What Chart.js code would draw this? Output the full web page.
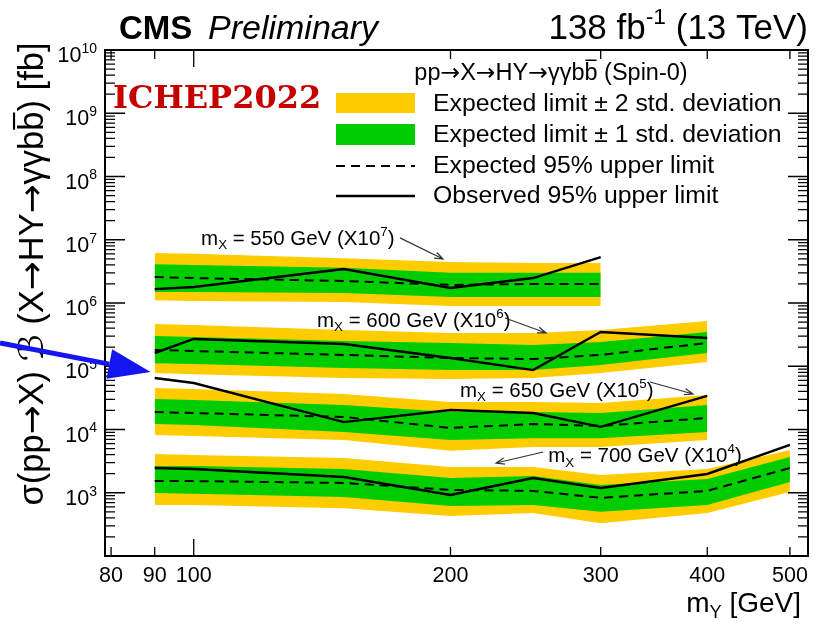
<!DOCTYPE html>
<html lang="en">
<head>
<meta charset="UTF-8">
<title>pp → X → HY → γγbb limits</title>
<script src="https://cdn.jsdelivr.net/npm/chart.js@4.4.0/dist/chart.umd.min.js"></script>
<style>
  html, body { margin: 0; padding: 0; background: #fff; }
  canvas { display: block; }
</style>
</head>
<body>
<canvas id="limits" width="819" height="625"></canvas>
<script>
// m_Y scan points (GeV) per m_X hypothesis
const mY550 = [90, 100, 150, 200, 250, 300];
const mY600 = [90, 100, 150, 200, 250, 300, 400];
const mY650 = [90, 100, 150, 200, 250, 300, 400];
const mY700 = [90, 100, 150, 200, 250, 300, 400, 500];

// limits in fb (before the display offset)
const exp550 = [0.258, 0.248, 0.223, 0.193, 0.200, 0.200];
const obs550 = [0.166, 0.179, 0.345, 0.173, 0.248, 0.533];
const p1s550 = [0.41, 0.40, 0.36, 0.30, 0.30, 0.30];
const m1s550 = [0.149, 0.149, 0.144, 0.124, 0.124, 0.124];
const p2s550 = [0.62, 0.60, 0.51, 0.445, 0.43, 0.43];
const m2s550 = [0.111, 0.108, 0.104, 0.090, 0.090, 0.090];

const exp600 = [0.181, 0.174, 0.151, 0.135, 0.130, 0.151, 0.233];
const obs600 = [0.162, 0.270, 0.225, 0.135, 0.087, 0.348, 0.280];
const p1s600 = [0.301, 0.290, 0.251, 0.233, 0.217, 0.242, 0.348];
const m1s600 = [0.112, 0.109, 0.094, 0.087, 0.087, 0.105, 0.162];
const p2s600 = [0.466, 0.449, 0.374, 0.336, 0.336, 0.374, 0.519];
const m2s600 = [0.078, 0.075, 0.065, 0.063, 0.065, 0.078, 0.117];

const exp650 = [0.189, 0.182, 0.158, 0.106, 0.122, 0.114, 0.152];
const obs650 = [0.651, 0.543, 0.131, 0.203, 0.182, 0.110, 0.339];
const p1s650 = [0.303, 0.293, 0.244, 0.189, 0.189, 0.182, 0.244];
const m1s650 = [0.122, 0.118, 0.091, 0.068, 0.073, 0.073, 0.091];
const p2s650 = [0.453, 0.437, 0.364, 0.272, 0.272, 0.262, 0.351];
const m2s650 = [0.082, 0.079, 0.068, 0.046, 0.053, 0.053, 0.068];

const exp700 = [0.153, 0.153, 0.143, 0.111, 0.107, 0.083, 0.107, 0.246];
const obs700 = [0.246, 0.237, 0.177, 0.092, 0.171, 0.119, 0.198, 0.569];
const p1s700 = [0.265, 0.265, 0.237, 0.171, 0.184, 0.133, 0.165, 0.367];
const m1s700 = [0.099, 0.096, 0.086, 0.062, 0.064, 0.050, 0.064, 0.148];
const p2s700 = [0.410, 0.395, 0.354, 0.255, 0.255, 0.191, 0.237, 0.474];
const m2s700 = [0.064, 0.064, 0.057, 0.043, 0.048, 0.033, 0.048, 0.103];

// each m_X curve is multiplied by a power of ten so they don't overlap
const offsetExp = [7, 6, 5, 4];
const mXValues = [550, 600, 650, 700];

// axis ticks
const xTickLabels = [80, 90, 100, 200, 300, 400, 500];
const xMajor = [100];
const yExponents = [2, 3, 4, 5, 6, 7, 8, 9, 10];
const yLabelled = [3, 4, 5, 6, 7, 8, 9, 10];

const YELLOW = '#ffcc00';
const GREEN = '#00cc00';
const FONT = '"Liberation Sans", Arial, Helvetica, sans-serif';
const ARROW_FONT = '"DejaVu Sans", sans-serif';

const groups = [
  { mY: mY550, exp: exp550, obs: obs550, p1: p1s550, m1: m1s550, p2: p2s550, m2: m2s550 },
  { mY: mY600, exp: exp600, obs: obs600, p1: p1s600, m1: m1s600, p2: p2s600, m2: m2s600 },
  { mY: mY650, exp: exp650, obs: obs650, p1: p1s650, m1: m1s650, p2: p2s650, m2: m2s650 },
  { mY: mY700, exp: exp700, obs: obs700, p1: p1s700, m1: m1s700, p2: p2s700, m2: m2s700 }
];

function pts(xs, ys, k) {
  return xs.map((m, i) => ({ x: m, y: ys[i] * k }));
}

const datasets = [];
groups.forEach((g, gi) => {
  const k = Math.pow(10, offsetExp[gi]);
  const line = { pointRadius: 0, tension: 0, fill: false };
  datasets.push({ ...line, data: pts(g.mY, g.p2, k), fill: '+1', backgroundColor: YELLOW, borderWidth: 0, order: 4 });
  datasets.push({ ...line, data: pts(g.mY, g.m2, k), borderWidth: 0, order: 4 });
  datasets.push({ ...line, data: pts(g.mY, g.p1, k), fill: '+1', backgroundColor: GREEN, borderWidth: 0, order: 3 });
  datasets.push({ ...line, data: pts(g.mY, g.m1, k), borderWidth: 0, order: 3 });
  datasets.push({ ...line, data: pts(g.mY, g.exp, k), borderColor: '#000', borderWidth: 2, borderDash: [9, 6], order: 2 });
  datasets.push({ ...line, data: pts(g.mY, g.obs, k), borderColor: '#000', borderWidth: 2.4, order: 1 });
});

// "m_X = ... GeV (X10^n)" labels with their pointers, in data coordinates
const curveNotes = [
  { at: [102, 8.3e6], from: [174.5, 1.07e7], to: [196, 4.96e6] },
  { at: [139.5, 4.18e5], from: [231.7, 5.79e5], to: [258.9, 3.36e5] },
  { at: [205.2, 3.27e4], from: [342.7, 5.64e4], to: [384.9, 3.64e4] },
  { at: [260.4, 3.06e3], from: [256.9, 4.41e3], to: [226.2, 2.95e3] }
];

// text made of pieces (superscript, subscript, overline); arrows use DejaVu
function splitArrows(parts) {
  const out = [];
  parts.forEach(p => {
    p.t.split(/(→)/).forEach(s => {
      if (!s) return;
      out.push(s === '→' ? { ...p, t: s, family: ARROW_FONT } : { ...p, t: s });
    });
  });
  return out;
}
function pieceFont(p, size) {
  const s = (p.sup || p.sub) ? size * 0.65 : size;
  return (p.style ? p.style + ' ' : '') + s.toFixed(1) + 'px ' + (p.family || FONT);
}
function richWidth(ctx, parts, size) {
  let w = 0;
  parts.forEach(p => { ctx.font = pieceFont(p, size); w += ctx.measureText(p.t).width; });
  return w;
}
function drawRich(ctx, rawParts, x, y, size, align) {
  const parts = splitArrows(rawParts);
  const w = richWidth(ctx, parts, size);
  let cx = align === 'right' ? x - w : align === 'center' ? x - w / 2 : x;
  ctx.textAlign = 'left';
  ctx.textBaseline = 'alphabetic';
  parts.forEach(p => {
    ctx.font = pieceFont(p, size);
    const dy = p.sup ? -size * 0.42 : p.sub ? size * 0.22 : 0;
    ctx.fillText(p.t, cx, y + dy);
    const pw = ctx.measureText(p.t).width;
    if (p.bar) {
      ctx.save();
      ctx.lineWidth = Math.max(1, size / 16);
      ctx.strokeStyle = ctx.fillStyle;
      ctx.beginPath();
      ctx.moveTo(cx + 1, y - size * 0.84);
      ctx.lineTo(cx + pw - 1, y - size * 0.84);
      ctx.stroke();
      ctx.restore();
    }
    cx += pw;
  });
  return w;
}

function thinArrow(ctx, x1, y1, x2, y2, head) {
  const a = Math.atan2(y2 - y1, x2 - x1);
  ctx.beginPath();
  ctx.moveTo(x1, y1);
  ctx.lineTo(x2, y2);
  ctx.moveTo(x2 - head * Math.cos(a - 0.35), y2 - head * Math.sin(a - 0.35));
  ctx.lineTo(x2, y2);
  ctx.lineTo(x2 - head * Math.cos(a + 0.35), y2 - head * Math.sin(a + 0.35));
  ctx.stroke();
}

const rootStyle = {
  id: 'rootStyle',
  afterDraw(chart) {
    const { ctx, chartArea: a } = chart;
    const xs = chart.scales.x, ys = chart.scales.y;
    ctx.save();
    ctx.fillStyle = '#000';
    ctx.strokeStyle = '#000';

    // frame
    ctx.lineWidth = 2;
    ctx.strokeRect(a.left, a.top, a.right - a.left, a.bottom - a.top);

    // y ticks on both sides
    ctx.lineWidth = 1.3;
    ctx.beginPath();
    yExponents.forEach(e => {
      const py = ys.getPixelForValue(Math.pow(10, e));
      ctx.moveTo(a.left, py); ctx.lineTo(a.left + 20, py);
      ctx.moveTo(a.right, py); ctx.lineTo(a.right - 20, py);
      if (e < 10) {
        for (let j = 2; j <= 9; j++) {
          const q = ys.getPixelForValue(j * Math.pow(10, e));
          ctx.moveTo(a.left, q); ctx.lineTo(a.left + 10, q);
          ctx.moveTo(a.right, q); ctx.lineTo(a.right - 10, q);
        }
      }
    });
    // x ticks on top and bottom
    xTickLabels.forEach(v => {
      const px = xs.getPixelForValue(v);
      const len = xMajor.includes(v) ? 17 : 9;
      ctx.moveTo(px, a.bottom); ctx.lineTo(px, a.bottom - len);
      ctx.moveTo(px, a.top); ctx.lineTo(px, a.top + len);
    });
    ctx.stroke();

    // tick labels
    yLabelled.forEach(e => {
      const py = ys.getPixelForValue(Math.pow(10, e));
      drawRich(ctx, [{ t: '10' }, { t: String(e), sup: true }], 97, py + 12, 21.5, 'right');
    });
    ctx.font = '21.5px ' + FONT;
    ctx.textAlign = 'center';
    ctx.textBaseline = 'alphabetic';
    xTickLabels.forEach(v => {
      ctx.fillText(String(v), xs.getPixelForValue(v), 582);
    });

    // axis titles
    drawRich(ctx, [{ t: 'm' }, { t: 'Y', sub: true }, { t: ' [GeV]' }], 801, 612, 28, 'right');
    ctx.save();
    ctx.translate(43, 274);
    ctx.rotate(-Math.PI / 2);
    drawRich(ctx, [
      { t: 'σ(pp→X) ' }, { t: 'ℬ', family: '"DejaVu Sans", sans-serif' },
      { t: ' (X→HY→γγb' }, { t: 'b', bar: true }, { t: ') [fb]' }
    ], 0, 0, 34.5, 'center');
    ctx.restore();

    // header
    ctx.font = 'bold 33px ' + FONT;
    ctx.textAlign = 'left';
    ctx.fillText('CMS', 119, 39);
    ctx.font = 'italic 34px ' + FONT;
    ctx.fillText('Preliminary', 208, 39);
    drawRich(ctx, [{ t: '138 fb' }, { t: '-1', sup: true }, { t: ' (13 TeV)' }], 808, 39, 35, 'right');

    // legend
    drawRich(ctx, [{ t: 'pp→X→HY→γγb' }, { t: 'b', bar: true }, { t: ' (Spin-0)' }], 551, 80, 23.5, 'center');
    ctx.fillStyle = YELLOW;
    ctx.fillRect(336, 93, 79, 20);
    ctx.fillStyle = GREEN;
    ctx.fillRect(336, 124, 79, 21);
    ctx.fillStyle = '#000';
    ctx.lineWidth = 2;
    ctx.setLineDash([9, 6]);
    ctx.beginPath(); ctx.moveTo(336, 166); ctx.lineTo(415, 166); ctx.stroke();
    ctx.setLineDash([]);
    ctx.lineWidth = 2.4;
    ctx.beginPath(); ctx.moveTo(336, 196); ctx.lineTo(415, 196); ctx.stroke();
    ctx.font = '24.8px ' + FONT;
    ctx.textAlign = 'left';
    ctx.fillText('Expected limit \u00b1 2 std. deviation', 433, 111);
    ctx.fillText('Expected limit \u00b1 1 std. deviation', 433, 142);
    ctx.fillText('Expected 95% upper limit', 433, 173);
    ctx.fillText('Observed 95% upper limit', 433, 203);

    // curve labels and pointers
    ctx.strokeStyle = '#333';
    ctx.lineWidth = 1.2;
    curveNotes.forEach((n, i) => {
      ctx.fillStyle = '#000';
      drawRich(ctx, [
        { t: 'm' }, { t: 'X', sub: true },
        { t: ' = ' + mXValues[i] + ' GeV (X10' }, { t: String(offsetExp[i]), sup: true }, { t: ')' }
      ], xs.getPixelForValue(n.at[0]), ys.getPixelForValue(n.at[1]), 20.5, 'left');
      thinArrow(ctx,
        xs.getPixelForValue(n.from[0]), ys.getPixelForValue(n.from[1]),
        xs.getPixelForValue(n.to[0]), ys.getPixelForValue(n.to[1]), 9);
    });

    // conference stamp
    ctx.fillStyle = '#c40000';
    ctx.font = 'bold 32px "DejaVu Serif", "Liberation Serif", serif';
    ctx.fillText('ICHEP2022', 113, 108);

    // blue pointer
    const tipX = xs.getPixelForValue(89), tipY = ys.getPixelForValue(8.1e4);
    const tailX = 0, tailY = 343;
    const ang = Math.atan2(tipY - tailY, tipX - tailX);
    const hl = 42, hw = 15;
    const bx = tipX - hl * Math.cos(ang), by = tipY - hl * Math.sin(ang);
    ctx.strokeStyle = '#1515f0';
    ctx.fillStyle = '#1515f0';
    ctx.lineWidth = 5;
    ctx.beginPath(); ctx.moveTo(tailX, tailY); ctx.lineTo(bx, by); ctx.stroke();
    ctx.beginPath();
    ctx.moveTo(tipX, tipY);
    ctx.lineTo(bx + hw * Math.sin(ang), by - hw * Math.cos(ang));
    ctx.lineTo(bx - hw * Math.sin(ang), by + hw * Math.cos(ang));
    ctx.closePath();
    ctx.fill();

    ctx.restore();
  }
};

new Chart(document.getElementById('limits'), {
  type: 'line',
  data: { datasets },
  options: {
    responsive: false,
    animation: false,
    devicePixelRatio: 1,
    layout: { padding: { left: 105, right: 11, top: 50, bottom: 69 } },
    scales: {
      x: { type: 'logarithmic', min: 78.7, max: 525, display: false },
      y: { type: 'logarithmic', min: 1e2, max: 1e10, display: false }
    },
    plugins: {
      legend: { display: false },
      tooltip: { enabled: false }
    }
  },
  plugins: [rootStyle]
});
</script>
</body>
</html>
